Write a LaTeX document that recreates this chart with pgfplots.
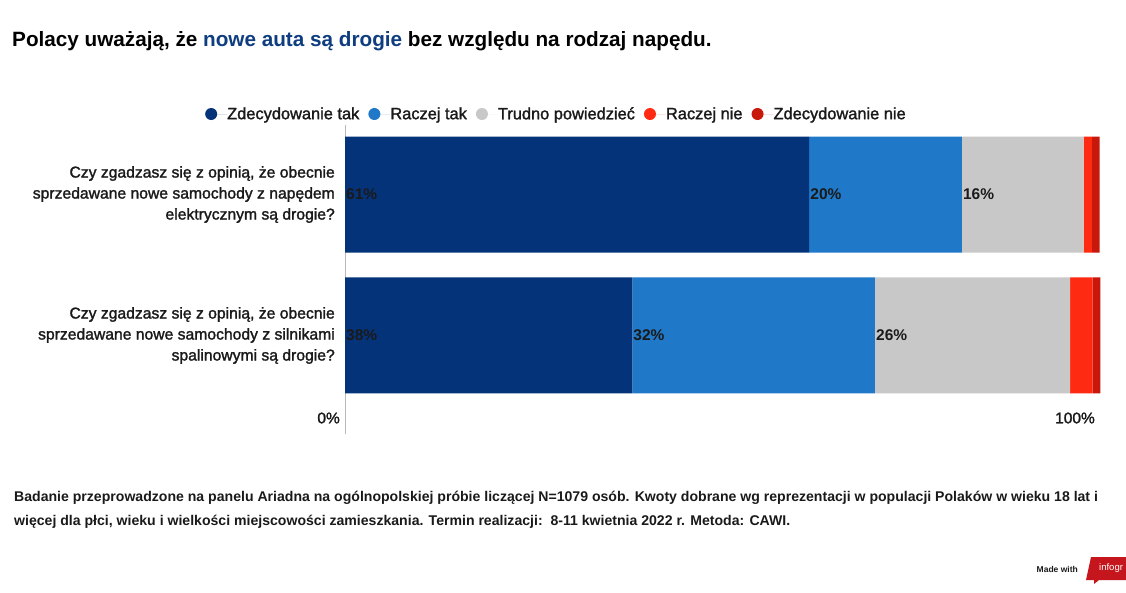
\documentclass[border=0pt]{standalone}
\usepackage{pgfplots}
\pgfplotsset{compat=1.18}
\usepackage{fontspec}
\setmainfont{Liberation Sans}
\newfontfamily\medfont[FakeBold=1.6]{Liberation Sans}
\definecolor{cnavy}{HTML}{05337A}
\definecolor{cblue}{HTML}{1F78C8}
\definecolor{cgray}{HTML}{C8C8C8}
\definecolor{cred}{HTML}{FF2A12}
\definecolor{cdred}{HTML}{C8170B}
\definecolor{ctitle}{HTML}{0E3D80}
\definecolor{clogo}{HTML}{C4161C}
\definecolor{ctext}{HTML}{1A1A1A}
\begin{document}
\begin{tikzpicture}[x=1pt,y=1pt]
\useasboundingbox (0,0) rectangle (1126,-592);
\fill[white] (0,0) rectangle (1126,-592);
\node[anchor=west, inner sep=0pt, font=\bfseries\fontsize{20.7}{24}\selectfont, text=black] at (12,-41)
  {Polacy uważają, że {\color{ctitle}nowe auta są drogie} bez względu na rodzaj napędu.};
\begin{axis}[
  at={(345pt,-434pt)}, anchor=south west,
  width=756pt, height=309pt, scale only axis,
  xbar stacked, bar width=116pt,
  xmin=0, xmax=100, ymin=-0.493, ymax=1.699, y dir=reverse,
  axis x line=none, axis y line=left,
  y axis line style={-, draw=gray!55, line width=0.8pt},
  ytick={0,1}, major tick length=0pt,
  yticklabels={{Czy zgadzasz się z opinią, że obecnie\\sprzedawane nowe samochody z napędem\\elektrycznym są drogie?},
               {Czy zgadzasz się z opinią, że obecnie\\sprzedawane nowe samochody z silnikami\\spalinowymi są drogie?}},
  yticklabel style={align=right, font=\medfont\fontsize{15.7}{21}\selectfont, inner sep=0pt, xshift=-10pt, text=ctext},
  legend columns=5,
  legend style={draw=none, fill=none, at={(-0.1852,1.0356)}, anchor=west, inner sep=0pt,
     nodes={inner sep=0pt, font=\medfont\fontsize{16.4}{18}\selectfont, text=ctext},
     /tikz/every even column/.append style={column sep=9pt},
     /tikz/every odd column/.append style={column sep=0pt}},
  myleg/.style={legend image code/.code={\fill[##1] (6pt,0pt) circle (6pt); \path (0pt,0pt) -- (22pt,0pt);}},
]
\addplot[fill=cnavy, draw=none, myleg] coordinates {(61.4,0) (38.0,1)};
\addplot[fill=cblue, draw=none, myleg] coordinates {(20.2,0) (32.1,1)};
\addplot[fill=cgray, draw=none, myleg] coordinates {(16.1,0) (25.8,1)};
\addplot[fill=cred, draw=none, myleg] coordinates {(1.1,0) (3.0,1)};
\addplot[fill=cdred, draw=none, myleg] coordinates {(1.0,0) (1.0,1)};
\legend{Zdecydowanie tak, Raczej tak, Trudno powiedzieć, Raczej nie, Zdecydowanie nie}
\end{axis}
\begin{axis}[
  at={(345pt,-434pt)}, anchor=south west,
  width=756pt, height=309pt, scale only axis,
  xmin=0, xmax=100, ymin=-0.493, ymax=1.699, y dir=reverse,
  hide axis, clip=false,
]
\addplot[draw=none, mark=none, nodes near coords, point meta=explicit symbolic,
  nodes near coords style={anchor=west, inner sep=0pt, xshift=1pt, font=\bfseries\fontsize{15.5}{18}\selectfont, text=ctext}]
  table[meta=label] {
x y label
0 0 61\%
61.4 0 20\%
81.6 0 16\%
0 1 38\%
38.0 1 32\%
70.1 1 26\%
};
\end{axis}
\node[anchor=east, inner sep=0pt, font=\medfont\fontsize{15.5}{18}\selectfont, text=ctext] at (340,-418) {0\%};
\node[anchor=east, inner sep=0pt, font=\medfont\fontsize{15.5}{18}\selectfont, text=ctext] at (1095,-418) {100\%};
\node[anchor=base west, inner sep=0pt, font=\bfseries\fontsize{14.08}{16}\selectfont, text=ctext] at (14,-501)
  {Badanie przeprowadzone na panelu Ariadna na ogólnopolskiej próbie liczącej N=1079 osób. Kwoty dobrane wg reprezentacji w populacji Polaków w wieku 18 lat i};
\node[anchor=base west, inner sep=0pt, font=\bfseries\fontsize{14.08}{16}\selectfont, text=ctext] at (14,-525)
  {więcej dla płci, wieku i wielkości miejscowości zamieszkania. Termin realizacji:\ \ 8-11 kwietnia 2022 r. Metoda: CAWI.};
\node[anchor=east, inner sep=0pt, font=\bfseries\fontsize{8.5}{10}\selectfont, text=ctext] at (1078,-569) {Made with};
\begin{scope}
\clip (0,0) rectangle (1126,-592);
\fill[clogo] (1086,-580) -- (1091,-557) -- (1130,-557) -- (1130,-580) -- (1099,-580) -- (1094,-584) -- (1094,-580) -- cycle;
\node[anchor=west, inner sep=0pt, font=\fontsize{9.5}{11}\selectfont, text=white] at (1099,-568) {infogr};
\end{scope}
\end{tikzpicture}
\end{document}
